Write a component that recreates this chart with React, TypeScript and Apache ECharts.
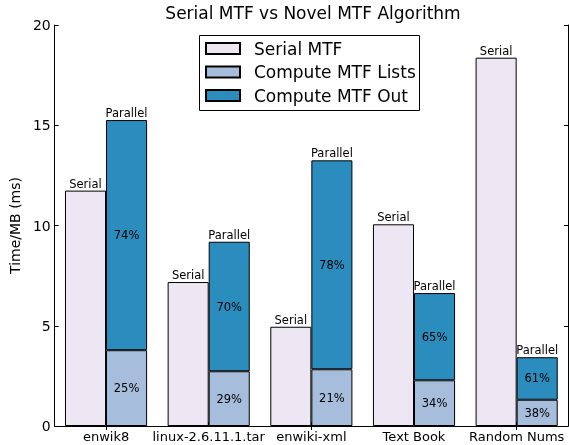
import React, { useEffect, useRef } from "react";
import * as echarts from "echarts";

const categories = ["enwik8", "linux-2.6.11.1.tar", "enwiki-xml", "Text Book", "Random Nums"];
const serialTimes = [11.74, 7.18, 4.95, 10.06, 18.37];
const listsTimes = [3.78, 2.73, 2.83, 2.28, 1.31];
const outTimes = [11.48, 6.46, 10.42, 4.35, 2.12];
const listsPct = ["25%", "29%", "21%", "34%", "38%"];
const outPct = ["74%", "70%", "78%", "65%", "61%"];
const yTicks = { min: 0, max: 20, interval: 5 };

const FONT = "DejaVu Sans";
const C_SERIAL = "#ece7f2";
const C_LISTS = "#a6bddb";
const C_OUT = "#2b8cbe";

export default function App() {
  const ref = useRef<HTMLDivElement>(null);
  useEffect(() => {
    if (!ref.current) return;
    const chart = echarts.init(ref.current, null, { renderer: "svg" });
    const barLabel = { color: "#000", fontFamily: FONT, fontSize: 11.5 };
    chart.setOption({
      animation: false,
      textStyle: { fontFamily: FONT },
      grid: { left: 50, right: 1, top: 25, bottom: 19, containLabel: false },
      graphic: [
        {
          type: "text",
          x: 313,
          y: 4,
          style: {
            text: "Serial MTF vs Novel MTF Algorithm",
            fontFamily: FONT,
            fontSize: 17,
            fill: "#000",
            align: "center",
            verticalAlign: "top",
          },
        },
        {
          type: "rect",
          shape: { x: 199.5, y: 35.5, width: 220, height: 75 },
          style: { fill: "#fff", stroke: "#000", lineWidth: 1 },
          z: 5,
        },
      ],
      legend: {
        show: true,
        orient: "vertical",
        left: 205,
        top: 40,
        padding: 0,
        itemWidth: 34,
        itemHeight: 11,
        itemGap: 6.5,
        icon: "rect",
        z: 10,
        data: ["Serial MTF", "Compute MTF Lists", "Compute MTF Out"],
        textStyle: {
          fontFamily: FONT,
          fontSize: 17,
          color: "#000",
          padding: [0, 0, 0, 9],
        },
      },
      xAxis: [
        {
          type: "category",
          data: categories,
          position: "bottom",
          axisLine: { show: true, lineStyle: { color: "#000", width: 1 } },
          axisTick: { show: true, inside: true, alignWithLabel: true, length: 4, lineStyle: { color: "#000" } },
          axisLabel: { color: "#000", fontFamily: FONT, fontSize: 13, margin: 4, interval: 0 },
          splitLine: { show: false },
        },
        {
          type: "category",
          data: categories,
          position: "top",
          axisLine: { show: true, lineStyle: { color: "#000", width: 1 } },
          axisTick: { show: true, inside: true, alignWithLabel: true, length: 4, lineStyle: { color: "#000" } },
          axisLabel: { show: false },
          splitLine: { show: false },
        },
      ],
      yAxis: [
        {
          type: "value",
          position: "left",
          min: yTicks.min,
          max: yTicks.max,
          interval: yTicks.interval,
          name: "Time/MB (ms)",
          nameLocation: "middle",
          nameGap: 26,
          nameTextStyle: { color: "#000", fontFamily: FONT, fontSize: 14 },
          axisLine: { show: true, lineStyle: { color: "#000", width: 1 } },
          axisTick: { show: true, inside: true, length: 4, lineStyle: { color: "#000" } },
          axisLabel: { color: "#000", fontFamily: FONT, fontSize: 14, margin: 4 },
          splitLine: { show: false },
        },
        {
          type: "value",
          position: "right",
          min: yTicks.min,
          max: yTicks.max,
          interval: yTicks.interval,
          axisLine: { show: true, lineStyle: { color: "#000", width: 1 } },
          axisTick: { show: true, inside: true, length: 4, lineStyle: { color: "#000" } },
          axisLabel: { show: false },
          splitLine: { show: false },
        },
      ],
      series: [
        {
          name: "Serial MTF",
          type: "bar",
          data: serialTimes,
          barWidth: "40%",
          barGap: "0%",
          itemStyle: { color: C_SERIAL, borderColor: "#000", borderWidth: 1 },
          label: { show: true, position: "top", distance: 1, formatter: "Serial", ...barLabel },
        },
        {
          name: "Compute MTF Lists",
          type: "bar",
          stack: "par",
          data: listsTimes,
          barWidth: "40%",
          barGap: "0%",
          itemStyle: { color: C_LISTS, borderColor: "#000", borderWidth: 1 },
          label: {
            show: true,
            position: "inside",
            formatter: (p: any) => listsPct[p.dataIndex],
            ...barLabel,
          },
        },
        {
          name: "Compute MTF Out",
          type: "bar",
          stack: "par",
          data: outTimes,
          barWidth: "40%",
          barGap: "0%",
          itemStyle: { color: C_OUT, borderColor: "#000", borderWidth: 1 },
          label: {
            show: true,
            position: "inside",
            formatter: (p: any) => outPct[p.dataIndex],
            ...barLabel,
          },
        },
        {
          name: "parallelTop",
          type: "bar",
          stack: "par",
          data: categories.map(() => 0),
          barWidth: "40%",
          barGap: "0%",
          itemStyle: { color: "transparent", borderWidth: 0 },
          label: { show: true, position: "top", distance: 1, formatter: "Parallel", ...barLabel },
        },
      ],
    });
    return () => chart.dispose();
  }, []);
  return (
    <div
      ref={ref}
      style={{ position: "fixed", left: 0, top: 0, width: 569, height: 445 }}
    />
  );
}
